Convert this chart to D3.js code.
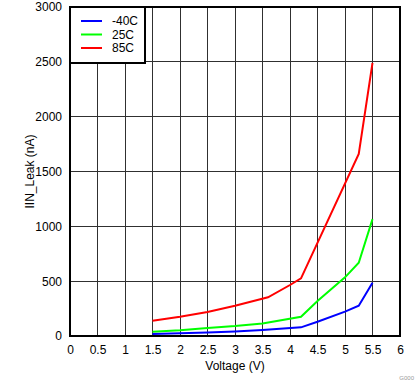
<!DOCTYPE html>
<html><head><meta charset="utf-8">
<script src="https://cdn.jsdelivr.net/npm/d3@7"></script>
<style>body{margin:0;background:#fff}svg{display:block}text{font-family:"Liberation Sans",Arial,sans-serif}</style>
</head><body><svg id="c" width="419" height="382"></svg>
<script>
const xTicks = [0,0.5,1,1.5,2,2.5,3,3.5,4,4.5,5,5.5,6];
const yTicks = [0,500,1000,1500,2000,2500,3000];
const seriesNames = ["-40C","25C","85C"];
const seriesColors = ["#0000ff","#00ff00","#ff0000"];
const voltage = [1.5,2,2.5,3,3.5,4.2,4.5,5,5.25,5.5];
const leakM40 = [18,24,33,42,55,79,130,222,276,486];
const leak25 = [39,52,73,91,115,176,319,535,668,1066];
const voltage85 = [1.5,2,2.5,3,3.6,4,4.2,5.25,5.5];
const leak85 = [140,176,218,276,353,465,526,1660,2490];

const svg = d3.select("#c");
const L=70,R=400,T=7,B=336;
const x = d3.scaleLinear().domain([0,6]).range([L,R]);
const y = d3.scaleLinear().domain([0,3000]).range([B,T]);

const g = svg.append("g");
// grid
g.selectAll(".vx").data(xTicks).join("line")
 .attr("x1",d=>x(d)).attr("x2",d=>x(d)).attr("y1",T).attr("y2",B)
 .attr("stroke","#303030").attr("stroke-width",1).attr("shape-rendering","crispEdges");
g.selectAll(".hy").data(yTicks).join("line")
 .attr("y1",d=>y(d)).attr("y2",d=>y(d)).attr("x1",L).attr("x2",R)
 .attr("stroke","#303030").attr("stroke-width",1).attr("shape-rendering","crispEdges");
svg.append("rect").attr("x",L).attr("y",T).attr("width",R-L).attr("height",B-T)
 .attr("fill","none").attr("stroke","#000").attr("stroke-width",1.3).attr("shape-rendering","crispEdges");

// axes labels
const xa = d3.axisBottom(x).tickValues(xTicks).tickSize(0).tickPadding(9).tickFormat(d=>d);
svg.append("g").attr("transform",`translate(0,${B})`).call(xa)
 .call(a=>a.select(".domain").remove())
 .selectAll("text").attr("font-size",12).attr("fill","#000").attr("font-family","Liberation Sans, Arial, sans-serif");
const ya = d3.axisLeft(y).tickValues(yTicks).tickSize(0).tickPadding(8).tickFormat(d=>d);
svg.append("g").attr("transform",`translate(${L},0)`).call(ya)
 .call(a=>a.select(".domain").remove())
 .selectAll("text").attr("font-size",12).attr("fill","#000").attr("font-family","Liberation Sans, Arial, sans-serif");

svg.append("text").attr("x",(L+R)/2).attr("y",370).attr("text-anchor","middle")
 .attr("font-size",12).text("Voltage (V)");
svg.append("text").attr("transform",`translate(34,${(T+B)/2}) rotate(-90)`).attr("text-anchor","middle")
 .attr("font-size",12).text("IIN_Leak (nA)");
svg.append("text").attr("x",414).attr("y",380).attr("text-anchor","end")
 .attr("font-size",6).attr("fill","#999").text("G000");

// lines
const data = [
 voltage.map((v,i)=>[v,leakM40[i]]),
 voltage.map((v,i)=>[v,leak25[i]]),
 voltage85.map((v,i)=>[v,leak85[i]])
];
const line = d3.line().x(d=>x(d[0])).y(d=>y(d[1]));
svg.selectAll(".s").data(data).join("path")
 .attr("d",line).attr("fill","none").attr("stroke",(d,i)=>seriesColors[i]).attr("stroke-width",2);

// legend
const lg = svg.append("g");
lg.append("rect").attr("x",L).attr("y",T).attr("width",75).attr("height",56)
 .attr("fill","#fff").attr("stroke","#000").attr("stroke-width",1.2).attr("shape-rendering","crispEdges");
seriesNames.forEach((n,i)=>{
  const yy = 21+i*13.5;
  lg.append("line").attr("x1",81).attr("x2",102).attr("y1",yy).attr("y2",yy)
    .attr("stroke",seriesColors[i]).attr("stroke-width",2);
  lg.append("text").attr("x",112).attr("y",yy+4).attr("font-size",12).text(n);
});
</script></body></html>
